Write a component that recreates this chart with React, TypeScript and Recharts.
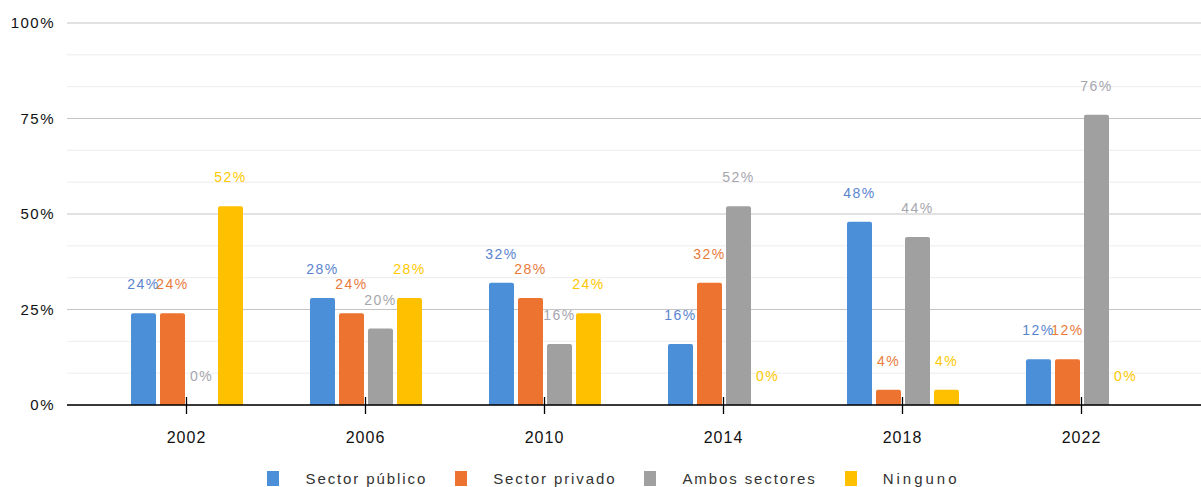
import React from "react";
import { BarChart, Bar, XAxis, YAxis, CartesianGrid, Legend, LabelList } from "recharts";

const years = ["2002", "2006", "2010", "2014", "2018", "2022"];
const sectorPublico = [24, 28, 32, 16, 48, 12];
const sectorPrivado = [24, 24, 28, 32, 4, 12];
const ambosSectores = [0, 20, 16, 52, 44, 76];
const ninguno = [52, 28, 24, 0, 4, 0];
const yTicks = [0, 25, 50, 75, 100];
const minorTicks = [8.33, 16.67, 33.33, 41.67, 58.33, 66.67, 83.33, 91.67];

const data = years.map((y, i) => ({
  year: y,
  publico: sectorPublico[i],
  privado: sectorPrivado[i],
  ambos: ambosSectores[i],
  ninguno: ninguno[i],
}));

const series = [
  { key: "publico", name: "Sector público", color: "#4a8fd8", label: "#5b84d0" },
  { key: "privado", name: "Sector privado", color: "#ed7430", label: "#e97a3a" },
  { key: "ambos", name: "Ambos sectores", color: "#a0a0a0", label: "#a6a6ae" },
  { key: "ninguno", name: "Ninguno", color: "#ffc000", label: "#ffc800" },
];

const XTick = (props: any) => {
  const { x, y, payload } = props;
  return (
    <g>
      <line x1={x} x2={x} y1={y - 8} y2={y + 9} stroke="#000" strokeWidth={1.3} />
      <text x={x} y={y + 32} textAnchor="middle" dominantBaseline="central" fontSize={16} fill="#111" style={{ letterSpacing: 1 }} fontFamily="Liberation Sans, Arial, sans-serif">
        {payload.value}
      </text>
    </g>
  );
};

const makeLabel = (color: string) => (props: any) => {
  const { x, y, width, height, value } = props;
  if (value === undefined || value === null) return null;
  const top = Number(y) + (Number(value) === 0 ? Number(height) : 0);
  return (
    <text
      x={Number(x) + Number(width) / 2}
      y={top - 29}
      textAnchor="middle"
      dominantBaseline="central"
      fill={color}
      fontSize={14}
      fontFamily="Liberation Sans, Arial, sans-serif"
      style={{ letterSpacing: 1.5 }}
    >
      {`${value}%`}
    </text>
  );
};

const LegendContent = () => (
  <div style={{ display: "flex", justifyContent: "center", alignItems: "flex-end", height: 32, fontFamily: "Liberation Sans, Arial, sans-serif", fontSize: 15, color: "#333", letterSpacing: 1.9, paddingLeft: 26 }}>
    {series.map((s, i) => (
      <div key={s.key} style={{ display: "flex", alignItems: "center", marginRight: i === series.length - 1 ? 0 : 28 }}>
        <div style={{ width: 12, height: 15, background: s.color, marginRight: 26 }} />
        <span style={i === series.length - 1 ? { letterSpacing: 3 } : undefined}>{s.name}</span>
      </div>
    ))}
  </div>
);

export default function App() {
  return (
    <div style={{ position: "absolute", left: 0, top: 0, width: 1201, height: 487, background: "#fff" }}>
      <BarChart
        width={1201}
        height={487}
        data={data}
        margin={{ top: 23, right: 0, bottom: 0, left: 0 }}
        barCategoryGap={34}
        barGap={4}
      >
        <CartesianGrid vertical={false} stroke="#ededed" horizontalValues={minorTicks} />
        <CartesianGrid vertical={false} stroke="#c4c4c4" />
        <XAxis
          dataKey="year"
          padding={{ left: 30, right: 30 }}
          axisLine={{ stroke: "#000", strokeWidth: 1.5 }}
          tickLine={false}
          tickSize={0}
          tickMargin={0}
          height={50}
          tick={<XTick />}
          interval={0}
        />
        <YAxis
          domain={[0, 100]}
          ticks={yTicks}
          width={67}
          axisLine={false}
          tickLine={false}
          tickSize={0}
          tickMargin={12}
          tickFormatter={(v: number) => `${v}%`}
          tick={{ fontSize: 15, fill: "#111", fontFamily: "Liberation Sans, Arial, sans-serif", letterSpacing: 1.5 }}
        />
        <Legend verticalAlign="bottom" height={32} content={<LegendContent />} />
        {series.map((s) => (
          <Bar
            key={s.key}
            dataKey={s.key}
            name={s.name}
            fill={s.color}
            radius={[2, 2, 0, 0]}
            minPointSize={0.01}
            isAnimationActive={false}
          >
            <LabelList dataKey={s.key} content={makeLabel(s.label)} />
          </Bar>
        ))}
      </BarChart>
    </div>
  );
}
